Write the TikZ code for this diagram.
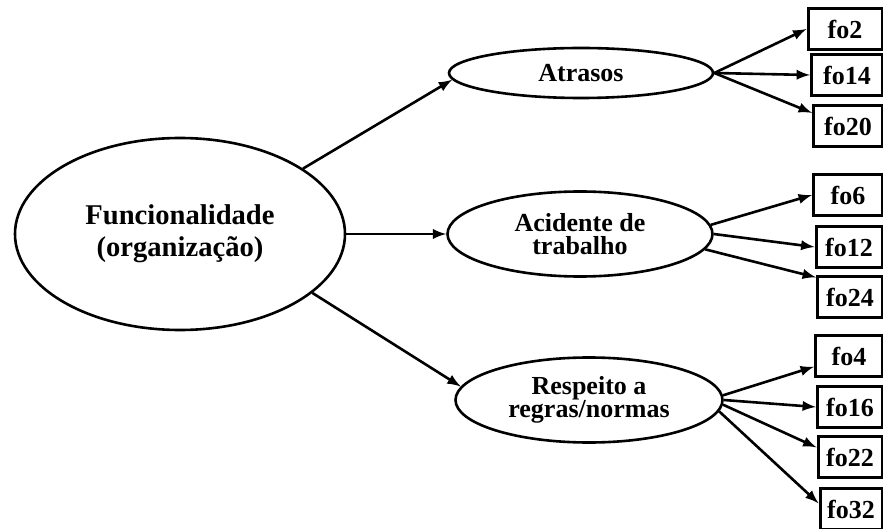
\documentclass[tikz,border=0pt]{standalone}
\usepackage{fontspec}
\setmainfont{Liberation Serif}
\usetikzlibrary{shapes.geometric}
\begin{document}
\begin{tikzpicture}[>=latex, x=0.5pt, y=-0.5pt,
  factor/.style={ellipse, draw, line width=1.3pt, inner sep=0pt, align=center,
    font=\bfseries\fontsize{13}{11.5}\selectfont},
  item/.style={rectangle, draw, line width=1.5pt, minimum height=20.5pt, inner sep=0pt,
    font=\bfseries\fontsize{13}{14}\selectfont},
  link/.style={->, line width=1.3pt}]
\useasboundingbox (0,0) rectangle (883,529);
% latent factors
\node[factor, minimum width=165pt, minimum height=96pt,
  font=\bfseries\fontsize{14.3}{16}\selectfont] (func) at (180,234) {Funcionalidade\\(organização)};
\node[factor, minimum width=132pt, minimum height=25pt] (atr) at (581,73) {Atrasos};
\node[factor, minimum width=132.5pt, minimum height=42.5pt] (acid) at (580,234) {Acidente de\\trabalho};
\node[factor, minimum width=133.5pt, minimum height=42.5pt] (resp) at (589,400) {Respeito a\\regras/normas};
% items
\node[item, minimum width=37pt] (fo2) at (845,29) {fo2};
\node[item, minimum width=35.5pt] (fo14) at (847,75) {fo14};
\node[item, minimum width=34.5pt] (fo20) at (848,126) {fo20};
\node[item, minimum width=34.5pt] (fo6) at (848,195) {fo6};
\node[item, minimum width=33pt] (fo12) at (849,247) {fo12};
\node[item, minimum width=32.5pt] (fo24) at (850,297) {fo24};
\node[item, minimum width=33.5pt] (fo4) at (849,356) {fo4};
\node[item, minimum width=32.5pt] (fo16) at (850,407) {fo16};
\node[item, minimum width=32pt] (fo22) at (850,457) {fo22};
\node[item, minimum width=31pt] (fo32) at (851,509) {fo32};
% paths
\draw[link] (func.28)--(atr.183);
\draw[link] (func.east)--(acid.west);
\draw[link] (func.-24)--(resp.174);
\draw[link] (atr.east)--(fo2.west);
\draw[link] (atr.east)--(fo14.west);
\draw[link] (atr.east)--(fo20.160);
\draw[link] (acid.4)--(fo6.west);
\draw[link] (acid.0)--(fo12.west);
\draw[link] (acid.-7)--(fo24.150);
\draw[link] (resp.2)--(fo4.197);
\draw[link] (resp.0)--(fo16.west);
\draw[link] (resp.-2)--(fo22.164);
\draw[link] (resp.-5)--(fo32.170);
\end{tikzpicture}
\end{document}
